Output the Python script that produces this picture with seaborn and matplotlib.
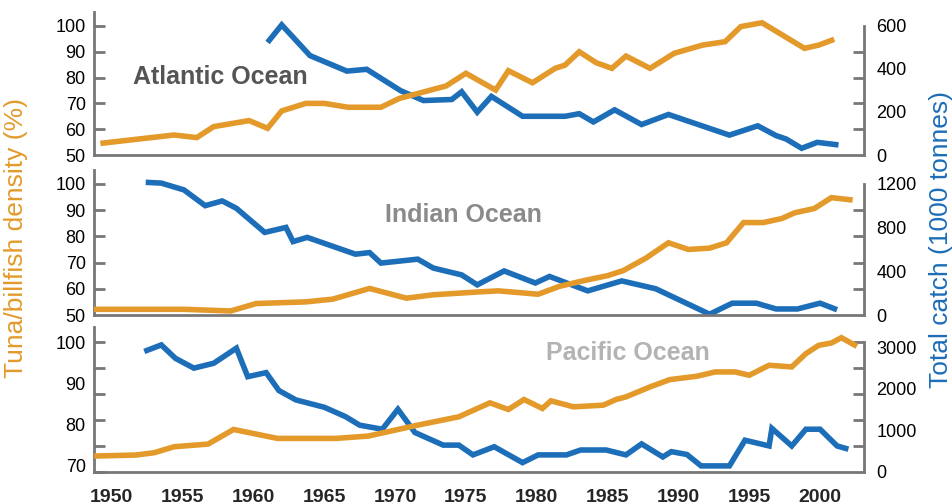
import matplotlib
matplotlib.use('Agg')
import matplotlib.pyplot as plt
import seaborn as sns
from matplotlib.ticker import FixedLocator

sns.set_style('white')
plt.rcParams['font.family'] = ['Liberation Sans', 'DejaVu Sans']

BLUE = '#1d6eb8'
ORANGE = '#e39a2b'
GREY = '#777777'

# Atlantic
atl_dens_year = [1961, 1962, 1964, 1966.6, 1968, 1970.4, 1972, 1974, 1974.7, 1975.8, 1976.8, 1979,
                 1982, 1983, 1984, 1985.5, 1987.4, 1989.3, 1993.6, 1995.6, 1996.9, 1997.6, 1998.7,
                 1999.8, 2001.3]
atl_dens = [93.6, 100.4, 88.5, 82.5, 83.2, 74.9, 71.1, 71.5, 74.5, 66.6, 72.7, 65.0,
            65.0, 66.0, 62.8, 67.5, 61.8, 65.7, 57.7, 61.3, 57.5, 56.2, 52.6,
            54.9, 53.9]
atl_catch_year = [1949.2, 1954.4, 1956, 1957.2, 1959.7, 1961, 1962, 1963.7, 1965, 1966.7, 1969,
                  1970.3, 1973.6, 1975, 1977.1, 1978, 1979.7, 1981.3, 1982, 1983, 1984.2, 1985.3,
                  1986.3, 1988, 1989.7, 1991.7, 1993.3, 1994.4, 1995.9, 1998.9, 1999.9, 2001]
atl_catch = [54, 93, 81, 132, 160, 124, 205, 240, 240, 222, 222,
             263, 321, 380, 302, 392, 336, 403, 418, 480, 429, 403,
             460, 403, 473, 511, 527, 597, 615, 496, 511, 538]

# Indian
ind_dens_year = [1952.4, 1953.5, 1955.1, 1956.6, 1957.8, 1958.8, 1960.8, 1962.3, 1962.8, 1963.8,
                 1967.2, 1968.2, 1969, 1971.6, 1972.7, 1974.7, 1975.8, 1977.7, 1979.9, 1980.9,
                 1983.6, 1986, 1988.4, 1992.2, 1993.8, 1995.5, 1996.9, 1998.4, 2000, 2001.2]
ind_dens = [100.6, 100.3, 97.7, 91.7, 93.5, 90.7, 81.5, 83.4, 78.0, 79.6,
            73.2, 73.8, 69.8, 71.3, 67.9, 65.3, 61.5, 66.8, 62.2, 64.7,
            59.2, 63.0, 60.0, 50.3, 54.5, 54.5, 52.3, 52.3, 54.5, 52.0]
ind_catch_year = [1948.75, 1955.1, 1958.4, 1960.2, 1963.7, 1965.6, 1968.2, 1970.8, 1972.7, 1976,
                  1977.3, 1980.1, 1981.6, 1983.3, 1985, 1986.1, 1987.7, 1989.3, 1990.7, 1992.2,
                  1993.4, 1994.6, 1996, 1997.3, 1998.2, 1999.6, 2000.8, 2002.3]
ind_catch = [52, 52, 37, 105, 120, 145, 243, 154, 185, 212,
             221, 190, 262, 314, 360, 406, 520, 661, 600, 612,
             661, 846, 846, 883, 935, 975, 1074, 1052]

# Pacific
pac_dens_year = [1952.3, 1953.5, 1954.5, 1955.8, 1957.2, 1958.8, 1959.6, 1960.9, 1961.8, 1963,
                 1965, 1966.5, 1967.5, 1969.1, 1970.2, 1971.4, 1973.4, 1974.5, 1975.5, 1977,
                 1979, 1980.1, 1982.1, 1983.1, 1984.9, 1986.3, 1987.4, 1988.9, 1989.5, 1990.6,
                 1991.6, 1993.6, 1994.7, 1996.4, 1996.6, 1998, 1999, 2000, 2001.2, 2002]
pac_dens = [97.9, 99.5, 96.2, 93.8, 95.0, 98.7, 91.7, 92.7, 88.3, 86.0,
            84.2, 81.9, 79.8, 78.8, 83.7, 78.0, 74.9, 74.9, 72.5, 74.5,
            70.6, 72.5, 72.5, 73.7, 73.7, 72.5, 75.2, 72.0, 73.3, 72.6,
            69.8, 69.8, 76.1, 74.7, 79.0, 74.7, 78.8, 78.8, 74.7, 73.9]
pac_catch_year = [1948.75, 1951.7, 1953, 1954.4, 1956.8, 1958.6, 1961.7, 1965.8, 1968.1, 1971.6,
                  1974.5, 1976.7, 1978, 1979.1, 1980.4, 1981, 1982.6, 1984.7, 1985.6, 1986.3,
                  1988, 1989.4, 1991.3, 1992.6, 1994, 1995, 1996.4, 1998, 1999, 1999.9,
                  2000.8, 2001.5, 2002.6]
pac_catch = [383, 407, 463, 606, 670, 1021, 806, 806, 862, 1125,
             1325, 1660, 1500, 1740, 1524, 1708, 1564, 1604, 1740, 1803,
             2043, 2218, 2298, 2402, 2402, 2322, 2562, 2522, 2841, 3040,
             3096, 3224, 3016]

year_ticks = [1950, 1955, 1960, 1965, 1970, 1975, 1980, 1985, 1990, 1995, 2000]

panels = [
    dict(title='Atlantic Ocean', tcol='#555555', tx=133, ty=77, top=12, bottom=155,
         dx=atl_dens_year, dy=atl_dens, cx=atl_catch_year, cy=atl_catch,
         lylim=(50, 105.4), rylim=(0, 665),
         lticks=[50, 60, 70, 80, 90, 100], rticks=[0, 200, 400, 600],
         rmarks=[0, 120, 240, 360, 480, 600]),
    dict(title='Indian Ocean', tcol='#8a8a8a', tx=385, ty=215, top=170, bottom=315,
         dx=ind_dens_year, dy=ind_dens, cx=ind_catch_year, cy=ind_catch,
         lylim=(50, 105.3), rylim=(0, 1327),
         lticks=[50, 60, 70, 80, 90, 100], rticks=[0, 400, 800, 1200],
         rmarks=[0, 240, 480, 720, 960, 1200]),
    dict(title='Pacific Ocean', tcol='#b3b3b3', tx=546, ty=353, top=327, bottom=472,
         dx=pac_dens_year, dy=pac_dens, cx=pac_catch_year, cy=pac_catch,
         lylim=(68.3, 103.9), rylim=(0, 3480),
         lticks=[70, 80, 90, 100], rticks=[0, 1000, 2000, 3000],
         rmarks=[0, 625, 1250, 1875, 2500, 3125]),
]

W, H = 952, 504
fig = plt.figure(figsize=(W / 100, H / 100), dpi=100)

for i, p in enumerate(panels):
    ax = fig.add_axes([94 / W, 1 - p['bottom'] / H, 770 / W, (p['bottom'] - p['top']) / H])
    ax2 = ax.twinx()

    sns.lineplot(x=p['dx'], y=p['dy'], ax=ax, color=BLUE, lw=4.0, estimator=None, sort=False,
                 solid_joinstyle='miter', solid_capstyle='butt')
    sns.lineplot(x=p['cx'], y=p['cy'], ax=ax2, color=ORANGE, lw=4.0, estimator=None, sort=False,
                 solid_joinstyle='miter', solid_capstyle='butt')

    ax.set_xlim(1948.75, 2003.1)
    ax.set_ylim(*p['lylim'])
    ax2.set_ylim(*p['rylim'])
    ax.set_xlabel('')
    ax.set_ylabel('')
    ax2.set_ylabel('')

    # labels (no marks) on major ticks, marks on minor ticks
    l0, l1 = p['lylim']
    r0, r1 = p['rylim']
    lmarks = [l0 + (r - r0) * (l1 - l0) / (r1 - r0) for r in p['rmarks']]
    ax.set_yticks(p['lticks'])
    ax.set_yticklabels([str(t) for t in p['lticks']])
    ax.yaxis.set_minor_locator(FixedLocator(lmarks))
    ax.tick_params(axis='y', which='major', length=0, labelsize=13, pad=6, labelcolor='black')
    ax.tick_params(axis='y', which='minor', direction='in', length=8, width=2, color=GREY)

    ax2.set_yticks(p['rticks'])
    ax2.set_yticklabels([str(t) for t in p['rticks']])
    ax2.yaxis.set_minor_locator(FixedLocator(p['rmarks']))
    ax2.tick_params(axis='y', which='major', length=0, labelsize=13, pad=9, labelcolor='black')
    ax2.tick_params(axis='y', which='minor', direction='in', length=8, width=2, color=GREY)

    ax.set_xticks(year_ticks)
    if i == len(panels) - 1:
        ax.tick_params(axis='x', direction='in', length=8, width=2, color=GREY, labelsize=14, pad=12)
        for lbl in ax.get_xticklabels():
            lbl.set_fontweight('bold')
    else:
        ax.tick_params(axis='x', length=0, labelbottom=False)

    for s in ['top', 'right']:
        ax.spines[s].set_visible(False)
    for s in ['left', 'bottom']:
        ax.spines[s].set_color(GREY)
        ax.spines[s].set_linewidth(2)
    for s in ['top', 'left', 'bottom']:
        ax2.spines[s].set_visible(False)
    ax2.spines['right'].set_color(GREY)
    ax2.spines['right'].set_linewidth(2)
    ax2.spines['right'].set_bounds(0, p['rmarks'][-1])

    fig.text(p['tx'] / W, 1 - p['ty'] / H, p['title'], fontsize=18, fontweight='bold',
             color=p['tcol'], ha='left', va='center')

fig.text(16 / W, 1 - 238 / H, 'Tuna/billfish density (%)', rotation=90, fontsize=19,
         color=ORANGE, ha='center', va='center')
fig.text(941 / W, 1 - 240 / H, 'Total catch (1000 tonnes)', rotation=90, fontsize=19,
         color=BLUE, ha='center', va='center')

fig.savefig('out.png', dpi=100)
